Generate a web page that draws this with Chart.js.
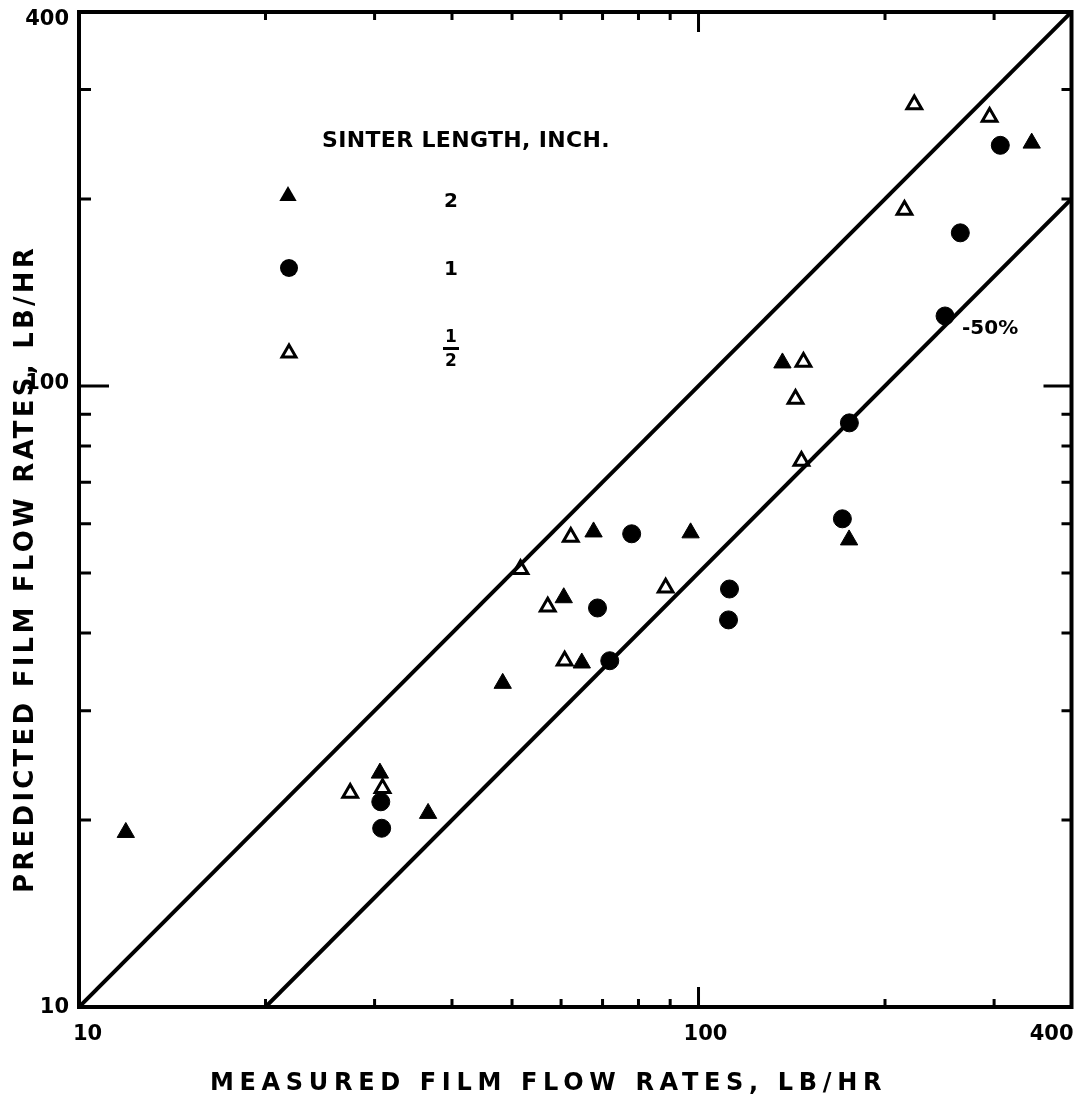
<!DOCTYPE html>
<html><head><meta charset="utf-8">
<script src="https://cdn.jsdelivr.net/npm/chart.js@4.4.0/dist/chart.umd.min.js"></script>
<style>html,body{margin:0;padding:0;background:#fff;}#wrap{width:1083px;height:1099px;position:relative;}</style>
</head><body><div id="wrap"><canvas id="c" width="1083" height="1099"></canvas></div>
<script>
// ---- data ----
const tickValues = [10,20,30,40,50,60,70,80,90,100,200,300,400];
const majorTicks = [100];
const tickLabels = ['10','100','400'];
const tickLabelValues = [10,100,400];

const twoInchX = [11.9,30.6,36.6,48.3,60.6,64.8,67.7,97.1,136.6,175,345];
const twoInchY = [19.1,23.8,20.5,33.2,45.6,35.8,58.2,58.0,108.9,56.5,246];

const oneInchX = [30.7,30.8,68.7,71.9,78.0,112.2,111.8,170.7,175.2,250,264.6,307];
const oneInchY = [21.4,19.4,43.9,36.1,57.8,47.1,42.0,61.1,87.2,129.6,176.4,244];

const halfInchX = [27.4,30.9,51.6,57.1,62.2,60.8,88.5,147.7,143.4,146.6,215,223,295];
const halfInchY = [22.1,22.5,50.7,44.1,57.1,36.1,47.3,109.3,95.3,75.7,192,284,271];

const perfectX = [10,400];
const perfectY = [10,400];
const minus50X = [20,400];
const minus50Y = [10,200];

const legendTitle = 'SINTER LENGTH, INCH.';
const legendLabels = ['2','1','1/2'];
const lineLabel = '-50%';
const xTitle = 'MEASURED FILM FLOW RATES, LB/HR';
const yTitle = 'PREDICTED FILM FLOW RATES, LB/HR';

const pts = (xs, ys) => xs.map((x, i) => ({x, y: ys[i]}));
const FONT = '"DejaVu Sans", "Liberation Sans", sans-serif';

function fitSpacing(ctx, text, font, target) {
  ctx.font = font;
  if ('letterSpacing' in ctx) ctx.letterSpacing = '0px';
  const w = ctx.measureText(text).width;
  const ls = (target - w) / text.length;
  if ('letterSpacing' in ctx) ctx.letterSpacing = ls.toFixed(2) + 'px';
}

const decor = {
  id: 'decor',
  afterDraw(chart) {
    const ctx = chart.ctx, a = chart.chartArea;
    const xs = chart.scales.x, ys = chart.scales.y;
    ctx.save();
    ctx.strokeStyle = '#000'; ctx.fillStyle = '#000';
    // frame
    ctx.lineWidth = 4;
    ctx.strokeRect(a.left, a.top, a.right - a.left, a.bottom - a.top);
    // inward ticks
    ctx.lineWidth = 3;
    tickValues.forEach(v => {
      if (v === 10 || v === 400) return;
      const major = majorTicks.includes(v);
      const py = ys.getPixelForValue(v);
      ctx.beginPath();
      ctx.moveTo(a.left, py); ctx.lineTo(a.left + (major ? 30 : 12), py);
      ctx.moveTo(a.right, py); ctx.lineTo(a.right - (major ? 28 : 10), py);
      const px = xs.getPixelForValue(v);
      ctx.moveTo(px, a.bottom); ctx.lineTo(px, a.bottom - (major ? 20 : 8));
      ctx.moveTo(px, a.top); ctx.lineTo(px, a.top + (major ? 20 : 8));
      ctx.stroke();
    });
    // tick labels
    ctx.font = 'bold 21px ' + FONT;
    if ('letterSpacing' in ctx) ctx.letterSpacing = '0px';
    ctx.textBaseline = 'middle';
    tickLabelValues.forEach((v, i) => {
      const py = ys.getPixelForValue(v);
      ctx.textAlign = 'right';
      ctx.fillText(tickLabels[i], a.left - 10, i === 2 ? py + 8 : (i === 1 ? py - 2 : py + 1));
      const px = xs.getPixelForValue(v);
      if (i === 0) { ctx.textAlign = 'left'; ctx.fillText(tickLabels[i], px - 6, a.bottom + 28); }
      else if (i === 1) { ctx.textAlign = 'center'; ctx.fillText(tickLabels[i], px + 7, a.bottom + 28); }
      else { ctx.textAlign = 'right'; ctx.fillText(tickLabels[i], px + 2, a.bottom + 28); }
    });
    // x title
    ctx.textAlign = 'left'; ctx.textBaseline = 'alphabetic';
    fitSpacing(ctx, xTitle, 'bold 24px ' + FONT, 677);
    ctx.fillText(xTitle, 210, 1090);
    // y title
    ctx.save();
    ctx.translate(33, 893);
    ctx.rotate(-Math.PI / 2);
    fitSpacing(ctx, yTitle, 'bold 26px ' + FONT, 648);
    ctx.fillText(yTitle, 0, 0);
    ctx.restore();
    // legend
    fitSpacing(ctx, legendTitle, 'bold 22px ' + FONT, 288);
    ctx.fillText(legendTitle, 322, 147);
    if ('letterSpacing' in ctx) ctx.letterSpacing = '0px';
    // markers
    const tri = (x, y, r) => {
      ctx.beginPath();
      ctx.moveTo(x, y - r);
      ctx.lineTo(x + r * Math.sin(2 * Math.PI / 3), y - r * Math.cos(2 * Math.PI / 3));
      ctx.lineTo(x + r * Math.sin(4 * Math.PI / 3), y - r * Math.cos(4 * Math.PI / 3));
      ctx.closePath();
    };
    tri(288, 196, 10); ctx.fill();
    ctx.beginPath(); ctx.arc(289, 268, 9, 0, Math.PI * 2); ctx.fill();
    tri(289, 353, 8); ctx.fillStyle = '#fff'; ctx.fill(); ctx.lineWidth = 3; ctx.stroke(); ctx.fillStyle = '#000';
    ctx.font = 'bold 20px ' + FONT; ctx.textAlign = 'center'; ctx.textBaseline = 'middle';
    ctx.fillText(legendLabels[0], 451, 202);
    ctx.fillText(legendLabels[1], 451, 270);
    const frac = legendLabels[2].split('/');
    ctx.font = 'bold 17px ' + FONT;
    ctx.fillText(frac[0], 451, 338);
    ctx.fillRect(443, 347, 16, 3);
    ctx.fillText(frac[1], 451, 362);
    // -50% label
    ctx.font = 'bold 20px ' + FONT; ctx.textAlign = 'left';
    ctx.fillText(lineLabel, 962, 329);
    ctx.restore();
  }
};

new Chart(document.getElementById('c'), {
  type: 'scatter',
  data: {
    datasets: [
      {label: 'Perfect agreement', data: pts(perfectX, perfectY), showLine: true, borderColor: '#000', borderWidth: 4, pointRadius: 0, fill: false},
      {label: '-50%', data: pts(minus50X, minus50Y), showLine: true, borderColor: '#000', borderWidth: 4, pointRadius: 0, fill: false},
      {label: '2', data: pts(twoInchX, twoInchY), pointStyle: 'triangle', pointRadius: 10, backgroundColor: '#000', borderColor: '#000', borderWidth: 1},
      {label: '1', data: pts(oneInchX, oneInchY), pointStyle: 'circle', pointRadius: 9, backgroundColor: '#000', borderColor: '#000', borderWidth: 1},
      {label: '1/2', data: pts(halfInchX, halfInchY), pointStyle: 'triangle', pointRadius: 8.5, backgroundColor: '#fff', borderColor: '#000', borderWidth: 3}
    ]
  },
  options: {
    responsive: false, animation: false, devicePixelRatio: 1,
    layout: {padding: {top: 12, right: 10, left: 0, bottom: 0}},
    plugins: {legend: {display: false}, tooltip: {enabled: false}},
    scales: {
      x: {type: 'logarithmic', min: 10, max: 400, grid: {display: false}, border: {display: false},
          ticks: {display: false}, afterFit: s => { s.height = 92; }},
      y: {type: 'logarithmic', min: 10, max: 400, grid: {display: false}, border: {display: false},
          ticks: {display: false}, afterFit: s => { s.width = 79; }}
    }
  },
  plugins: [decor]
});
</script></body></html>
